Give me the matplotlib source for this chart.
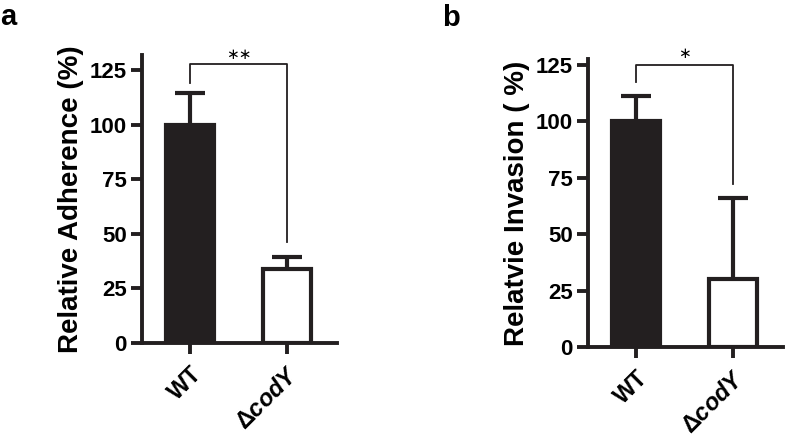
import matplotlib.pyplot as plt
import numpy as np

plt.rcParams['font.family'] = 'Liberation Sans'
plt.rcParams['font.weight'] = 'bold'
plt.rcParams['axes.labelweight'] = 'bold'
plt.rcParams['mathtext.fontset'] = 'custom'
plt.rcParams['mathtext.it'] = 'Liberation Sans:italic:bold'
plt.rcParams['mathtext.rm'] = 'Liberation Sans:bold'

# data
strains = ['WT', 'Δ$\\mathit{codY}$']
adherence = [100, 34]
adherence_err = [14.5, 5.5]
invasion = [100, 30]
invasion_err = [11, 36]

# significance brackets: (top, left leg end, right leg end, star y, stars)
adh_bracket = (127.8, 119, 46, 132.4, '**')
inv_bracket = (125, 117.5, 72, 130, '*')


def panel(ax, vals, errs, ylabel, ytop, bracket):
	x = np.arange(len(vals))
	vals = np.array(vals)
	errs = np.array(errs)
	# error bars (upper only)
	ax.vlines(x, vals, vals + errs, color='#231f20', lw=3, zorder=1)
	ax.hlines(vals + errs, x - 0.15, x + 0.15, color='#231f20', lw=3, zorder=1)
	ax.bar(x, vals, width=0.5, color=['#231f20', 'white'], edgecolor='#231f20',
		   linewidth=3, zorder=2)
	ax.set_xlim(-0.495, 1.515)
	ax.set_ylim(0, ytop)
	ax.set_yticks([0, 25, 50, 75, 100, 125])
	ax.set_yticklabels(['0', '25', '50', '75', '100', '125'], fontweight='bold', fontsize=16)
	ax.set_xticks(x)
	ax.set_xticklabels(strains, rotation=45, ha='right', va='top',
					   rotation_mode='anchor', fontsize=17, fontweight='bold')
	ax.tick_params(axis='y', length=8, width=2.8, pad=3, color='#231f20')
	ax.tick_params(axis='x', length=8, width=2.8, pad=6, color='#231f20')
	for s in ['top', 'right']:
		ax.spines[s].set_visible(False)
	for s in ['left', 'bottom']:
		ax.spines[s].set_linewidth(2.8)
		ax.spines[s].set_color('#231f20')
	ax.set_ylabel(ylabel, fontsize=20, fontweight='bold', labelpad=4)
	top, lleg, rleg, sy, stars = bracket
	ax.plot([x[0], x[0], x[1], x[1]], [lleg, top, top, rleg], color='#231f20',
			lw=1.3, clip_on=False, zorder=3)
	ax.text(x.mean(), sy, stars.replace('*', '\u2217'), ha='center', va='center',
			fontsize=11, fontweight='normal', clip_on=False,
			family=['DejaVu Sans'])


fig = plt.figure(figsize=(7.87, 4.4), dpi=100)
ax1 = fig.add_axes([0.1804, 0.2211, 0.2478, 0.654])
ax2 = fig.add_axes([0.7471, 0.2114, 0.2478, 0.6545])

panel(ax1, adherence, adherence_err, 'Relative Adherence (%)', 132, adh_bracket)
panel(ax2, invasion, invasion_err, 'Relatvie Invasion ( %)', 127.5, inv_bracket)

fig.text(0.0, 0.943, 'a', fontsize=21, fontweight='bold', va='baseline')
fig.text(0.5616, 0.941, 'b', fontsize=21, fontweight='bold', va='baseline')

fig.savefig('out.png', dpi=100)
